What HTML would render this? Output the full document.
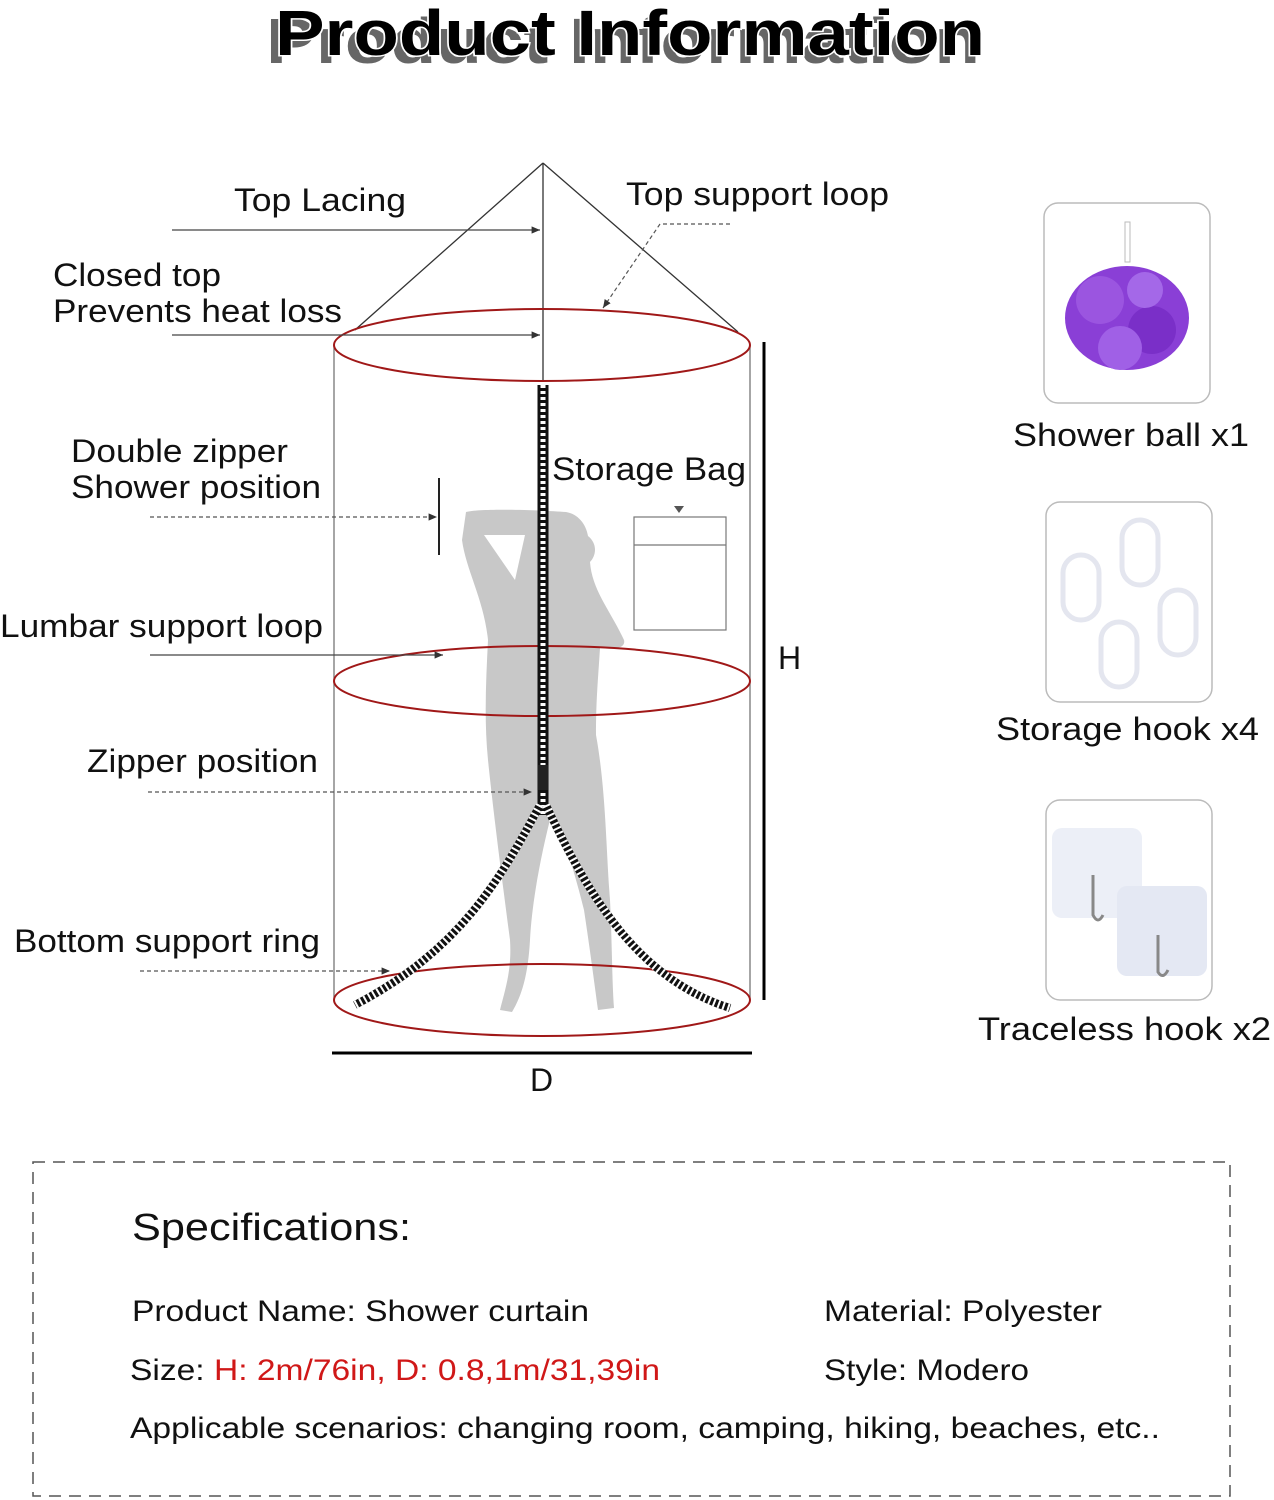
<!DOCTYPE html>
<html><head><meta charset="utf-8"><style>
html,body{margin:0;padding:0;background:#fff;}
svg{display:block;font-family:"Liberation Sans",Arial,sans-serif;}
</style></head><body>
<svg width="1274" height="1500" viewBox="0 0 1274 1500" xmlns="http://www.w3.org/2000/svg">
<defs>
<marker id="ar" markerWidth="8" markerHeight="8" refX="7" refY="4" orient="auto"><path d="M0,1 L7,4 L0,7 Z" fill="#333"/></marker>
</defs>
<!-- Title -->
<text x="266" y="63" font-size="64" font-weight="bold" fill="#666" textLength="714" lengthAdjust="spacingAndGlyphs">Product Information</text>
<text x="275" y="55" font-size="64" font-weight="bold" fill="#000" stroke="#fff" stroke-width="3" paint-order="stroke" textLength="710" lengthAdjust="spacingAndGlyphs">Product Information</text>

<!-- silhouette -->
<path d="M466,512 C480,508 540,510 566,512 C578,514 586,524 588,536 C598,544 596,556 590,562 C592,590 610,610 624,640 C626,648 615,650 600,648 C598,680 596,700 596,735 C606,790 606,850 610,900 C612,940 612,980 614,1008 L598,1010 C594,980 590,950 584,910 C574,870 562,830 552,812 C542,850 532,900 530,940 C528,975 522,995 512,1012 L500,1010 C505,990 512,970 510,940 C502,880 492,800 488,760 C484,720 486,680 488,640 C484,600 466,570 462,540 Z M484,535 L525,535 L515,580 Z" fill="#c8c8c8" fill-rule="evenodd"/>

<!-- pyramid top -->
<line x1="543" y1="163" x2="355" y2="330" stroke="#333" stroke-width="1.3"/>
<line x1="543" y1="163" x2="738" y2="332" stroke="#333" stroke-width="1.3"/>
<line x1="543" y1="163" x2="543" y2="382" stroke="#333" stroke-width="1.3"/>
<!-- cylinder -->
<line x1="334" y1="345" x2="334" y2="1000" stroke="#777" stroke-width="1.3"/>
<line x1="750" y1="345" x2="750" y2="1000" stroke="#777" stroke-width="1.3"/>
<ellipse cx="542" cy="345" rx="208" ry="36" fill="none" stroke="#a01818" stroke-width="2"/>
<ellipse cx="542" cy="681" rx="208" ry="35" fill="none" stroke="#a01818" stroke-width="2"/>
<ellipse cx="542" cy="1000" rx="208" ry="36" fill="none" stroke="#a01818" stroke-width="2"/>

<!-- zipper -->
<line x1="543" y1="385" x2="543" y2="815" stroke="#111" stroke-width="11"/>
<line x1="543" y1="385" x2="543" y2="815" stroke="#fff" stroke-width="5" stroke-dasharray="3 3"/>
<path d="M540,805 C500,880 460,950 355,1005" fill="none" stroke="#111" stroke-width="8"/>
<path d="M540,805 C500,880 460,950 355,1005" fill="none" stroke="#fff" stroke-width="8" stroke-dasharray="2 3"/>
<path d="M546,805 C590,900 640,980 730,1008" fill="none" stroke="#111" stroke-width="8"/>
<path d="M546,805 C590,900 640,980 730,1008" fill="none" stroke="#fff" stroke-width="8" stroke-dasharray="2 3"/>
<rect x="538" y="765" width="10" height="25" fill="#222"/>

<!-- storage bag -->
<rect x="634" y="517" width="92" height="113" fill="none" stroke="#777" stroke-width="1.2"/>
<line x1="634" y1="545" x2="726" y2="545" stroke="#777" stroke-width="1.2"/>
<path d="M674,506 L684,506 L679,513 Z" fill="#555"/>
<text x="552" y="480" font-size="32" fill="#111" textLength="194" lengthAdjust="spacingAndGlyphs">Storage Bag</text>

<!-- H, D -->
<line x1="764" y1="342" x2="764" y2="1000" stroke="#000" stroke-width="3"/>
<text x="778" y="669" font-size="32" fill="#111">H</text>
<line x1="332" y1="1053" x2="752" y2="1053" stroke="#000" stroke-width="3"/>
<text x="530" y="1091" font-size="32" fill="#111">D</text>

<!-- double zipper bar -->
<line x1="439" y1="478" x2="439" y2="555" stroke="#222" stroke-width="2"/>

<!-- labels + leaders -->
<g font-size="32" fill="#111" lengthAdjust="spacingAndGlyphs">
<text x="234" y="211" textLength="172" lengthAdjust="spacingAndGlyphs">Top Lacing</text>
<text x="626" y="205" textLength="263" lengthAdjust="spacingAndGlyphs">Top support loop</text>
<text x="53" y="286" textLength="168" lengthAdjust="spacingAndGlyphs">Closed top</text>
<text x="53" y="322" textLength="289" lengthAdjust="spacingAndGlyphs">Prevents heat loss</text>
<text x="71" y="462" textLength="217" lengthAdjust="spacingAndGlyphs">Double zipper</text>
<text x="71" y="498" textLength="250" lengthAdjust="spacingAndGlyphs">Shower position</text>
<text x="0" y="637" textLength="323" lengthAdjust="spacingAndGlyphs">Lumbar support loop</text>
<text x="87" y="772" textLength="231" lengthAdjust="spacingAndGlyphs">Zipper position</text>
<text x="14" y="952" textLength="306" lengthAdjust="spacingAndGlyphs">Bottom support ring</text>
</g>
<line x1="172" y1="230" x2="540" y2="230" stroke="#444" stroke-width="1.2" marker-end="url(#ar)"/>
<line x1="172" y1="335" x2="540" y2="335" stroke="#444" stroke-width="1.2" marker-end="url(#ar)"/>
<line x1="150" y1="517" x2="437" y2="517" stroke="#555" stroke-width="1.2" stroke-dasharray="4 3" marker-end="url(#ar)"/>
<line x1="150" y1="655" x2="443" y2="655" stroke="#444" stroke-width="1.2" marker-end="url(#ar)"/>
<line x1="148" y1="792" x2="532" y2="792" stroke="#555" stroke-width="1.2" stroke-dasharray="4 3" marker-end="url(#ar)"/>
<line x1="140" y1="971" x2="390" y2="971" stroke="#555" stroke-width="1.2" stroke-dasharray="4 3" marker-end="url(#ar)"/>
<polyline points="730,224 660,224 603,308" fill="none" stroke="#555" stroke-width="1.2" stroke-dasharray="4 3" marker-end="url(#ar)"/>

<!-- right items -->
<rect x="1044" y="203" width="166" height="200" rx="14" fill="#fff" stroke="#bbb" stroke-width="1.5"/>
<path d="M1125,222 L1130,222 L1130,262 L1125,262 Z" fill="none" stroke="#bbb"/>
<ellipse cx="1127" cy="318" rx="62" ry="52" fill="#8a3fd6"/>
<circle cx="1100" cy="300" r="24" fill="#9b55e0"/>
<circle cx="1152" cy="330" r="24" fill="#7a2fc8"/>
<circle cx="1120" cy="348" r="22" fill="#a060e6"/>
<circle cx="1145" cy="290" r="18" fill="#a468e8"/>
<text x="1013" y="446" font-size="32" fill="#111" textLength="236" lengthAdjust="spacingAndGlyphs">Shower ball x1</text>

<rect x="1046" y="502" width="166" height="200" rx="14" fill="#fff" stroke="#bbb" stroke-width="1.5"/>
<g fill="none" stroke="#e4e6ef" stroke-width="5">
<rect x="1063" y="555" width="36" height="65" rx="18"/>
<rect x="1122" y="520" width="36" height="65" rx="18"/>
<rect x="1160" y="590" width="36" height="65" rx="18"/>
<rect x="1101" y="622" width="36" height="65" rx="18"/>
</g>
<text x="996" y="740" font-size="32" fill="#111" textLength="263" lengthAdjust="spacingAndGlyphs">Storage hook x4</text>

<rect x="1046" y="800" width="166" height="200" rx="14" fill="#fff" stroke="#bbb" stroke-width="1.5"/>
<rect x="1052" y="828" width="90" height="90" rx="10" fill="#eceff7"/>
<rect x="1117" y="886" width="90" height="90" rx="10" fill="#e4e8f3"/>
<path d="M1093,875 L1093,915 Q1098,925 1103,915" fill="none" stroke="#888" stroke-width="3"/>
<path d="M1158,935 L1158,972 Q1163,980 1168,970" fill="none" stroke="#888" stroke-width="3"/>
<text x="978" y="1040" font-size="32" fill="#111" textLength="293" lengthAdjust="spacingAndGlyphs">Traceless hook x2</text>

<!-- specs -->
<rect x="33" y="1162" width="1197" height="334" fill="none" stroke="#555" stroke-width="1.5" stroke-dasharray="12 8"/>
<g font-size="30" fill="#111">
<text x="132" y="1240" font-size="38" textLength="279" lengthAdjust="spacingAndGlyphs">Specifications:</text>
<text x="132" y="1321" textLength="457" lengthAdjust="spacingAndGlyphs">Product Name: Shower curtain</text>
<text x="824" y="1321" textLength="278" lengthAdjust="spacingAndGlyphs">Material: Polyester</text>
<text x="130" y="1380" textLength="530" lengthAdjust="spacingAndGlyphs">Size: <tspan fill="#d01818">H: 2m/76in, D: 0.8,1m/31,39in</tspan></text>
<text x="824" y="1380" textLength="205" lengthAdjust="spacingAndGlyphs">Style: Modero</text>
<text x="130" y="1438" textLength="1030" lengthAdjust="spacingAndGlyphs">Applicable scenarios: changing room, camping, hiking, beaches, etc..</text>
</g>
</svg>
</body></html>
